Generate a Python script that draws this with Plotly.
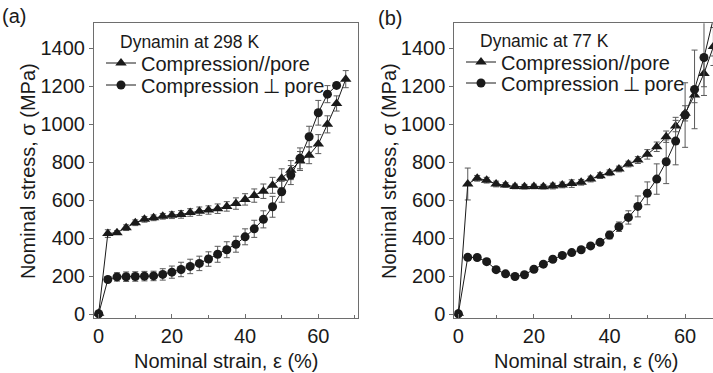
import plotly.graph_objects as go

# ---------------- data ----------------
strain_a_par = [0, 2.5, 5, 7.5, 10, 12.5, 15, 17.5, 20, 22.5, 25, 27.5, 30, 32.5, 35,
                37.5, 40, 42.5, 45, 47.5, 50, 52.5, 55, 57.5, 60, 62.5, 65, 67.5]
stress_a_par = [5, 425, 430, 456, 482, 500, 508, 516, 522, 526, 536, 543, 549, 556, 568,
                583, 605, 625, 648, 679, 716, 759, 807, 838, 896, 1000, 1110, 1238]
err_a_par = [8, 20, 10, 15, 15, 15, 15, 15, 18, 20, 20, 22, 22, 25, 25,
             30, 30, 35, 38, 42, 50, 50, 50, 45, 50, 45, 40, 45]

strain_a_perp = [0, 2.5, 5, 7.5, 10, 12.5, 15, 17.5, 20, 22.5, 25, 27.5, 30, 32.5,
                 35, 37.5, 40, 42.5, 45, 47.5, 50, 52.5, 55, 57.5, 60, 62.5, 65]
stress_a_perp = [3, 183, 197, 198, 199, 201, 202, 210, 222, 236, 252, 268, 291, 316,
                 340, 369, 408, 450, 500, 566, 645, 733, 821, 935, 1061, 1159, 1205]
err_a_perp = [8, 15, 22, 25, 25, 25, 25, 30, 32, 38, 38, 38, 38, 42,
              42, 42, 42, 45, 45, 55, 55, 50, 55, 55, 65, 45, 8]

strain_b_par = [0, 2.5, 5, 7.5, 10, 12.5, 15, 17.5, 20, 22.5, 25, 27.5, 30, 32.5, 35,
                37.5, 40, 42.5, 45, 47.5, 50, 52.5, 55, 57.5, 60, 62.5, 65, 67.5]
stress_b_par = [5, 686, 716, 706, 686, 681, 673, 672, 673, 672, 675, 681, 688, 695, 712,
                730, 745, 765, 791, 812, 842, 882, 935, 991, 1058, 1154, 1268, 1410]
err_b_par = [5, 84, 15, 15, 15, 12, 12, 12, 12, 12, 15, 15, 20, 15, 15,
             15, 15, 15, 15, 18, 25, 25, 30, 30, 40, 40, 70, 100]

strain_b_perp = [0, 2.5, 5, 7.5, 10, 12.5, 15, 17.5, 20, 22.5, 25, 27.5, 30, 32.5, 35,
                 37.5, 40, 42.5, 45, 47.5, 50, 52.5, 55, 57.5, 60, 62.5, 65, 67.5]
stress_b_perp = [3, 300, 299, 277, 235, 213, 199, 208, 237, 264, 290, 310, 325, 340, 360,
                 379, 417, 461, 510, 568, 637, 712, 803, 912, 1049, 1184, 1352, 1560]
err_b_perp = [5, 12, 10, 15, 12, 10, 10, 10, 10, 10, 10, 10, 10, 10, 10,
              12, 20, 25, 35, 55, 60, 80, 115, 125, 170, 207, 200, 200]

PERP = '\u2009<span style="font-family:DejaVu Sans">\u22a5</span>\u2009'
name_par = "Compression//pore"
name_perp = "Compression" + PERP + "pore"
title_a = "Dynamin at 298 K"
title_b = "Dynamic at 77 K"
x_title = "Nominal strain, \u03b5 (%)"
y_title = "Nominal stress, \u03c3 (MPa)"
x_ticks = [0, 20, 40, 60]
y_ticks = [0, 200, 400, 600, 800, 1000, 1200, 1400]

# ---------------- styling ----------------
W, H = 713, 373
FONT = "Liberation Sans, Arial, sans-serif"
INK = "#1a1a1a"
ERRC = "#5a5a5a"
FRAME = "#6e6e6e"

def px_x(p):
    return p / W

def px_y(p):
    return 1 - p / H

fig = go.Figure()

def add_series(x, y, e, symbol, name, xa, ya, legend, size):
    fig.add_trace(go.Scatter(
        x=x, y=y, name=name, mode="lines+markers",
        xaxis=xa, yaxis=ya, legend=legend,
        line=dict(color=INK, width=1),
        marker=dict(symbol=symbol, size=size, color=INK),
        error_y=dict(type="data", array=e, visible=True, color=ERRC,
                     thickness=1, width=3),
    ))

add_series(strain_a_par, stress_a_par, err_a_par, "triangle-up", name_par, "x", "y", "legend", 10)
add_series(strain_a_perp, stress_a_perp, err_a_perp, "circle", name_perp, "x", "y", "legend2", 9)
add_series(strain_b_par, stress_b_par, err_b_par, "triangle-up", name_par, "x2", "y2", "legend3", 10)
add_series(strain_b_perp, stress_b_perp, err_b_perp, "circle", name_perp, "x2", "y2", "legend4", 9)

ydom = [px_y(318.3), px_y(23.3)]
xa_dom = [px_x(94), px_x(358)]
xb_dom = [px_x(454.3), 1.0]

def xaxis(dom, rng, anchor):
    return dict(domain=dom, range=rng, anchor=anchor, automargin=False,
                tickvals=x_ticks, ticks="inside", ticklen=4, tickcolor=FRAME,
                minor=dict(dtick=10, tick0=0, ticks="inside", ticklen=3, tickcolor=FRAME),
                showline=True, linecolor=FRAME, linewidth=1, mirror=True,
                showgrid=False, zeroline=False,
                tickfont=dict(family=FONT, size=20, color=INK))

def yaxis(dom, anchor):
    return dict(domain=dom, range=[-21, 1532], anchor=anchor, automargin=False,
                tickvals=y_ticks, ticks="outside", ticklen=4, tickcolor=FRAME,
                showline=True, linecolor=FRAME, linewidth=1, mirror=True,
                showgrid=False, zeroline=False,
                tickfont=dict(family=FONT, size=20, color=INK))

leg_common = dict(font=dict(family=FONT, size=20, color=INK), bgcolor="rgba(0,0,0,0)",
                  borderwidth=0, xanchor="left", yanchor="middle", itemwidth=30)

def ann(text, x, y, size, angle=0, xanchor="left"):
    return dict(text=text, x=px_x(x), y=px_y(y), xref="paper", yref="paper",
                xanchor=xanchor, yanchor="middle", showarrow=False, textangle=angle,
                font=dict(family=FONT, size=size, color=INK))

fig.update_layout(
    width=W, height=H,
    margin=dict(l=0, r=0, t=0, b=0),
    paper_bgcolor="white", plot_bgcolor="white",
    xaxis=xaxis(xa_dom, [-1.28, 70.85], "y"),
    yaxis=yaxis(ydom, "x"),
    xaxis2=xaxis(xb_dom, [-1.06, 67.38], "y2"),
    yaxis2=yaxis(ydom, "x2"),
    legend=dict(x=px_x(101), y=px_y(63), **leg_common),
    legend2=dict(x=px_x(101), y=px_y(85), **leg_common),
    legend3=dict(x=px_x(461), y=px_y(62), **leg_common),
    legend4=dict(x=px_x(461), y=px_y(83), **leg_common),
    showlegend=True,
    annotations=[
        ann(title_a, 118, 42, 17.5),
        ann(title_b, 478, 41, 17.5),
        ann("(a)", 0, 16, 20),
        ann("(b)", 376, 18, 20),
        ann(x_title, 226, 361, 20, xanchor="center"),
        ann(x_title, 586, 361, 20, xanchor="center"),
        ann(y_title, 28, 171, 20, angle=-90, xanchor="center"),
        ann(y_title, 389, 171, 20, angle=-90, xanchor="center"),
    ],
)

fig.write_html("out.html", config={"displayModeBar": False},
               post_script="document.body.style.margin='0';")
